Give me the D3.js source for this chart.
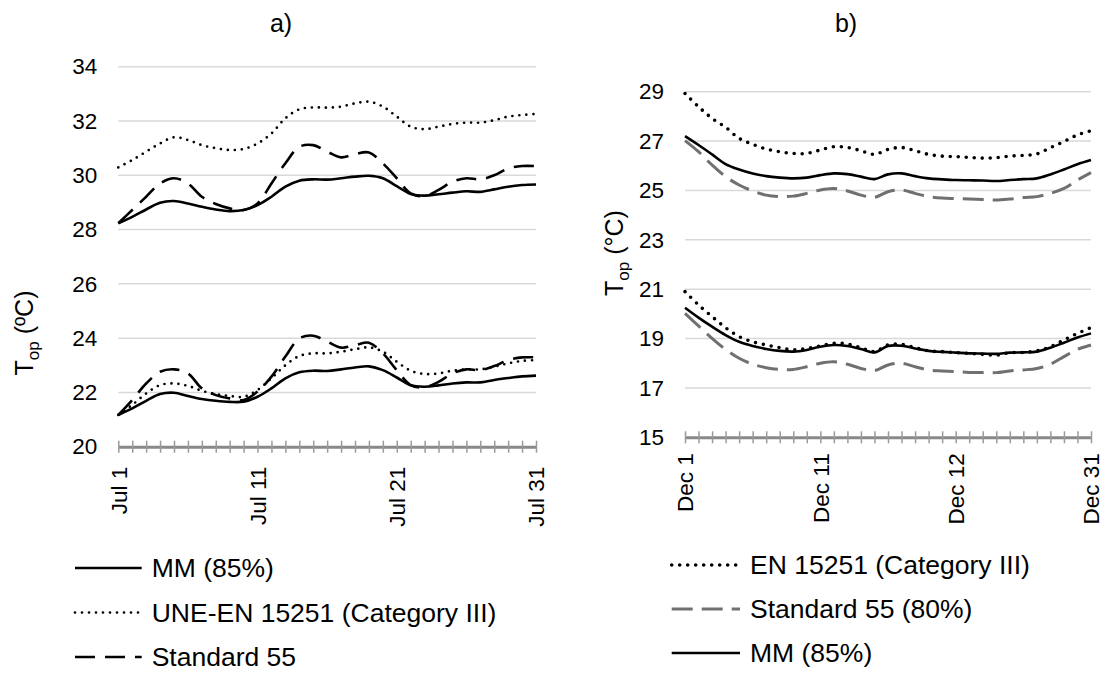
<!DOCTYPE html>
<html>
<head>
<meta charset="utf-8">
<script src="https://cdn.jsdelivr.net/npm/d3@7"></script>
<style>
  body { margin: 0; background: #fff; }
  svg { font-family: "Liberation Sans", Arial, sans-serif; }
</style>
</head>
<body>
<svg id="chart" width="1108" height="675"></svg>
<script>
// days of the month (categories)
const days = d3.range(1, 32)
const labelDays = [1, 11, 21, 31]
const julyLabels = ['Jul 1', 'Jul 11', 'Jul 21', 'Jul 31']
const decLabels = ['Dec 1', 'Dec 11', 'Dec 12', 'Dec 31']

// a) July - upper and lower limits
const mmUpA = [28.23,28.47,28.74,28.99,29.05,28.96,28.84,28.74,28.68,28.72,28.9,29.21,29.58,29.8,29.85,29.84,29.89,29.95,29.98,29.89,29.6,29.31,29.25,29.3,29.36,29.41,29.39,29.48,29.58,29.64,29.66]
const mmLoA = [21.17,21.41,21.69,21.94,21.99,21.87,21.76,21.69,21.65,21.66,21.84,22.15,22.52,22.74,22.8,22.79,22.85,22.92,22.96,22.82,22.55,22.26,22.21,22.26,22.33,22.37,22.37,22.46,22.53,22.59,22.62]
const enUpA = [30.29,30.56,30.87,31.17,31.4,31.3,31.11,31.0,30.93,30.97,31.17,31.54,32.1,32.43,32.5,32.49,32.53,32.65,32.71,32.53,32.16,31.79,31.7,31.79,31.89,31.94,31.94,32.03,32.16,32.22,32.26]
const enLoA = [21.17,21.54,21.96,22.27,22.33,22.24,22.06,21.94,21.87,21.84,22.09,22.52,23.0,23.34,23.44,23.44,23.5,23.59,23.66,23.5,23.13,22.8,22.68,22.7,22.8,22.85,22.85,22.95,23.07,23.16,23.19]
const s55UpA = [28.23,28.72,29.21,29.7,29.89,29.7,29.21,28.94,28.78,28.72,28.96,29.7,30.44,31.05,31.11,30.87,30.66,30.78,30.84,30.44,29.89,29.33,29.23,29.46,29.76,29.89,29.85,30.0,30.25,30.34,30.34]
const s55LoA = [21.17,21.72,22.33,22.76,22.85,22.7,22.15,21.9,21.78,21.72,22.03,22.58,23.32,23.99,24.09,23.87,23.65,23.74,23.83,23.44,22.82,22.27,22.19,22.39,22.7,22.85,22.82,22.97,23.19,23.29,23.29]

// b) December - upper and lower limits
const enUpB = [28.93,28.39,27.92,27.56,27.11,26.87,26.68,26.57,26.5,26.5,26.64,26.77,26.74,26.61,26.46,26.66,26.74,26.61,26.46,26.39,26.37,26.34,26.31,26.33,26.39,26.42,26.48,26.73,26.98,27.25,27.42]
const enLoB = [20.9,20.36,19.89,19.44,19.08,18.87,18.74,18.63,18.54,18.6,18.7,18.81,18.78,18.63,18.47,18.74,18.77,18.63,18.5,18.47,18.43,18.4,18.36,18.33,18.43,18.44,18.5,18.67,18.94,19.21,19.44]
const s55UpB = [27.02,26.57,26.03,25.56,25.22,24.98,24.81,24.75,24.77,24.88,25.02,25.08,24.98,24.81,24.72,24.95,25.02,24.88,24.75,24.69,24.67,24.65,24.63,24.61,24.65,24.71,24.75,24.88,25.08,25.42,25.72]
const s55LoB = [20.02,19.51,19.01,18.56,18.2,17.96,17.82,17.75,17.75,17.86,18.0,18.06,17.96,17.79,17.7,17.93,18.0,17.86,17.73,17.69,17.66,17.63,17.62,17.62,17.69,17.73,17.79,17.96,18.27,18.56,18.74]
const mmUpB = [27.2,26.84,26.46,26.07,25.85,25.69,25.58,25.52,25.49,25.52,25.62,25.69,25.66,25.56,25.46,25.65,25.69,25.58,25.49,25.45,25.42,25.41,25.4,25.38,25.42,25.46,25.49,25.65,25.85,26.06,26.23]
const mmLoB = [20.25,19.85,19.48,19.14,18.87,18.7,18.58,18.5,18.47,18.54,18.67,18.74,18.7,18.58,18.44,18.7,18.71,18.6,18.5,18.46,18.43,18.4,18.39,18.38,18.43,18.44,18.47,18.63,18.83,19.04,19.21]

const yTicksA = [20, 22, 24, 26, 28, 30, 32, 34]
const yTicksB = [15, 17, 19, 21, 23, 25, 27, 29]

const svg = d3.select('#chart')

const styles = {
  solid: { stroke: '#000', width: 2.6, dash: null, cap: 'butt' },
  dotA: { stroke: '#000', width: 2.7, dash: '0,7', cap: 'round' },
  dashA: { stroke: '#000', width: 2.6, dash: '20,10', cap: 'butt' },
  dotB: { stroke: '#000', width: 3.6, dash: '0,8', cap: 'round' },
  dashB: { stroke: '#707070', width: 3, dash: '21,9', cap: 'butt' }
}

function applyStyle(sel, st) {
  sel.attr('fill', 'none')
    .attr('stroke', st.stroke)
    .attr('stroke-width', st.width)
    .attr('stroke-linecap', st.cap)
    .attr('stroke-dasharray', st.dash)
}

function drawPanel(cfg) {
  const g = svg.append('g')

  const x = d3.scalePoint().domain(days).range([cfg.left, cfg.right])
  const y = d3.scaleLinear().domain(cfg.yDomain).range([cfg.bottom, cfg.top])

  // gridlines
  g.append('g').selectAll('line')
    .data(cfg.yTicks.slice(1))
    .join('line')
    .attr('x1', cfg.left).attr('x2', cfg.right)
    .attr('y1', d => y(d)).attr('y2', d => y(d))
    .attr('stroke', '#d9d9d9').attr('stroke-width', 1.5)

  // y axis labels
  const yAxis = g.append('g')
    .attr('transform', `translate(${cfg.left},0)`)
    .call(d3.axisLeft(y).tickValues(cfg.yTicks).tickSize(0).tickPadding(21))
  yAxis.select('.domain').remove()
  yAxis.selectAll('text')
    .attr('font-size', 22.5).attr('fill', '#000')
    .attr('font-family', '"Liberation Sans", Arial, sans-serif')

  // x axis
  const xAxis = g.append('g')
    .attr('transform', `translate(0,${cfg.bottom})`)
    .call(d3.axisBottom(x).tickSize(6).tickSizeOuter(0)
      .tickFormat(d => {
        const i = labelDays.indexOf(d)
        return i >= 0 ? cfg.labels[i] : ''
      }))
  xAxis.select('.domain').attr('stroke', '#898989').attr('stroke-width', 3)
  xAxis.selectAll('.tick line')
    .attr('y1', -6).attr('y2', 6)
    .attr('stroke', '#9a9a9a').attr('stroke-width', 1.5)
  xAxis.selectAll('.tick text')
    .attr('font-size', 22.5).attr('fill', '#000')
    .attr('font-family', '"Liberation Sans", Arial, sans-serif')
    .attr('text-anchor', 'end')
    .attr('transform', `translate(0,${cfg.xLabelGap}) rotate(-90)`)
    .attr('x', 0).attr('y', 0).attr('dy', '0.35em')

  // series
  const line = d3.line()
    .x((d, i) => x(days[i]))
    .y(d => y(d))
    .curve(d3.curveCatmullRom.alpha(0.5))

  cfg.series.forEach(s => {
    g.append('path').datum(s.values).attr('d', line).call(applyStyle, styles[s.style])
  })

  // title
  g.append('text')
    .attr('x', cfg.titleX).attr('y', 32)
    .attr('text-anchor', 'middle')
    .attr('font-size', 25)
    .text(cfg.title)

  // y label
  const yl = g.append('text')
    .attr('transform', `translate(${cfg.yLabelX},${cfg.yLabelY}) rotate(-90)`)
    .attr('text-anchor', 'middle')
    .attr('font-size', 25)
  yl.append('tspan').text('T')
  yl.append('tspan').attr('font-size', 17).attr('dy', 6).text('op')
  yl.append('tspan').attr('dy', -6).text(' (' + cfg.deg + 'C)')

  // legend
  cfg.legend.forEach((item, i) => {
    const ly = cfg.legendY[i]
    g.append('line')
      .attr('x1', cfg.legendX[0]).attr('x2', cfg.legendX[1])
      .attr('y1', ly).attr('y2', ly)
      .call(applyStyle, styles[item.style])
    g.append('text')
      .attr('x', cfg.legendX[1] + 10).attr('y', ly)
      .attr('dy', '0.35em')
      .attr('font-size', 26.5)
      .text(item.name)
  })
}

drawPanel({
  left: 118.3, right: 536, top: 66.7, bottom: 446.7,
  yDomain: [20, 34], yTicks: yTicksA, labels: julyLabels, xLabelGap: 20,
  title: 'a)', titleX: 281, yLabelX: 33, yLabelY: 333, deg: 'º',
  series: [
    { values: enUpA, style: 'dotA' }, { values: enLoA, style: 'dotA' },
    { values: s55UpA, style: 'dashA' }, { values: s55LoA, style: 'dashA' },
    { values: mmUpA, style: 'solid' }, { values: mmLoA, style: 'solid' }
  ],
  legendX: [75, 141.7], legendY: [568, 612.5, 657],
  legend: [
    { name: 'MM (85%)', style: 'solid' },
    { name: 'UNE-EN 15251 (Category III)', style: 'dotA' },
    { name: 'Standard 55', style: 'dashA' }
  ]
})

drawPanel({
  left: 685, right: 1091, top: 91.7, bottom: 437.3,
  yDomain: [15, 29], yTicks: yTicksB, labels: decLabels, xLabelGap: 16,
  title: 'b)', titleX: 846, yLabelX: 623, yLabelY: 253, deg: '°',
  series: [
    { values: s55UpB, style: 'dashB' }, { values: s55LoB, style: 'dashB' },
    { values: mmUpB, style: 'solid' }, { values: mmLoB, style: 'solid' },
    { values: enUpB, style: 'dotB' }, { values: enLoB, style: 'dotB' }
  ],
  legendX: [671.7, 740], legendY: [565, 609, 653],
  legend: [
    { name: 'EN 15251 (Category III)', style: 'dotB' },
    { name: 'Standard 55 (80%)', style: 'dashB' },
    { name: 'MM (85%)', style: 'solid' }
  ]
})
</script>
</body>
</html>
